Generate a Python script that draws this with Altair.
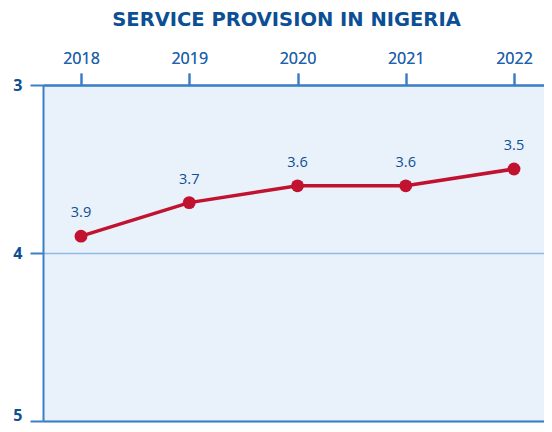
import altair as alt
import pandas as pd

years = ["2018", "2019", "2020", "2021", "2022"]
values = [3.9, 3.7, 3.6, 3.6, 3.5]
labels = ["3.9", "3.7", "3.6", "3.6", "3.5"]
y_ticks = [3, 4, 5]

df = pd.DataFrame({"year": years, "value": values, "label": labels})

DARK = "#0d4f94"
AXIS = "#3d7fc6"
RED = "#c1122f"

xscale = alt.Scale(type="point", padding=0.351)
x_top = alt.X("year:N", sort=years, scale=xscale,
              axis=alt.Axis(orient="top", title=None, labelAngle=0, domainColor=AXIS,
                            domainWidth=2, tickColor=AXIS, tickWidth=2, tickSize=12,
                            labelColor="#1f62ad", labelFont="Open Sans", labelFontSize=16,
                            labelPadding=7, grid=False))
x_bot = alt.X("year:N", sort=years, scale=xscale,
              axis=alt.Axis(orient="bottom", title=None, labels=False, ticks=False,
                            domainColor=AXIS, domainWidth=2, grid=False))
y = alt.Y("value:Q",
          scale=alt.Scale(domain=[3, 5], reverse=True, nice=False, zero=False),
          axis=alt.Axis(title=None, values=y_ticks, labelExpr="toString(datum.value)",
                        labelOffset={"condition": {"test": "datum.value === 5", "value": -6},
                                     "value": 0},
                        domainColor=AXIS,
                        domainWidth=2, tickColor=AXIS, tickWidth=2, tickSize=13,
                        labelColor=DARK, labelFont="Open Sans", labelFontSize=16,
                        labelFontWeight="bold", labelPadding=8,
                        grid=True, gridColor="#8fbbe6", gridWidth=1.3))

base = alt.Chart(df)
line = base.mark_line(color=RED, strokeWidth=3.5).encode(x=x_bot, y=y)
pts = base.mark_circle(color=RED, size=165, opacity=1).encode(x=x_top, y=y)
txt = base.mark_text(color=DARK, font="Open Sans", fontSize=14.5, dy=-23).encode(
    x=x_top, y=y, text="label:N")

chart = alt.layer(line, pts, txt).resolve_scale(x="shared").resolve_axis(
    x="independent"
).properties(
    width=509, height=336,
    background="white",
    autosize=alt.AutoSizeParams(type="none"),
    padding={"left": 35, "top": 77, "right": -8, "bottom": 3},
    title=alt.TitleParams("SERVICE PROVISION IN NIGERIA", color=DARK, font="DejaVu Sans",
                          fontSize=19.5, fontWeight="bold", anchor="middle", dx=-11,
                          offset=20),
).configure_view(fill="#e9f1fa", strokeWidth=0)

chart.save("out.html", embed_options={"renderer": "svg", "actions": False})
